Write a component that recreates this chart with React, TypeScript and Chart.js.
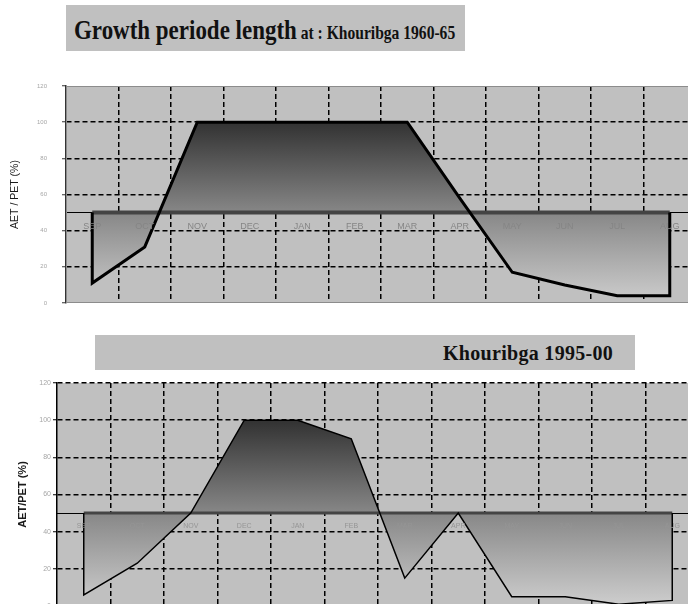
import React, { useEffect, useRef } from 'react';
import { Chart, registerables } from 'chart.js';

Chart.register(...registerables);

// ---------- data ----------
const MONTHS = ['SEP', 'OCT', 'NOV', 'DEC', 'JAN', 'FEB', 'MAR', 'APR', 'MAY', 'JUN', 'JUL', 'AUG'];
const RATIO_1960_65 = [11, 31, 100, 100, 100, 100, 100, 58, 17, 10, 4, 4];
const RATIO_1995_00 = [6, 23, 50, 100, 100, 90, 15, 50, 5, 5, 1, 3];
const THRESHOLD = 50;
const Y_MIN = 0;
const Y_MAX = 120;
const Y_STEP = 20;

const TITLE_MAIN = 'Growth periode length';
const TITLE_SUB_1 = 'at :  Khouribga 1960-65';
const TITLE_2 = 'Khouribga 1995-00';
const Y_TITLE_1 = 'AET / PET (%)';
const Y_TITLE_2 = 'AET/PET (%)';

const SANS = '"Liberation Sans", Arial, sans-serif';
const SERIF = '"Liberation Serif", "Times New Roman", serif';

type PanelCfg = {
  values: number[];
  yTitle: string;
  yTitleFont: any;
  yTitlePad: number;
  axisWidth: number;
  padding: { top: number; right: number; bottom: number; left: number };
  lineWidth: number;
  bandWidth: number;
  monthFont: number;
  monthColor: string;
  monthPad: number;
  yFont: number;
  yPad: number;
  hideEdgeGrid: boolean;
  frame: boolean;
  axisColor: string;
};

function buildPoints(labels: string[], values: number[]) {
  return [
    { x: labels[0], y: THRESHOLD },
    ...labels.map((l, i) => ({ x: l, y: values[i] })),
    { x: labels[labels.length - 1], y: THRESHOLD },
  ];
}

function makeChart(canvas: HTMLCanvasElement, cfg: PanelCfg) {
  const plotBg = {
    id: 'plotBg',
    beforeDraw(chart: any) {
      const { ctx, chartArea: a } = chart;
      ctx.save();
      ctx.fillStyle = '#c0c0c0';
      ctx.fillRect(a.left, a.top, a.right - a.left, a.bottom - a.top);
      ctx.restore();
    },
    beforeDatasetsDraw(chart: any) {
      if (!cfg.frame) return;
      const { ctx, chartArea: a } = chart;
      ctx.save();
      ctx.strokeStyle = '#8c8c8c';
      ctx.lineWidth = 1;
      ctx.strokeRect(a.left + 0.5, a.top + 0.5, a.right - a.left - 1, a.bottom - a.top - 1);
      ctx.restore();
    },
  };

  return new Chart(canvas, {
    type: 'line',
    data: {
      labels: MONTHS,
      datasets: [
        {
          data: buildPoints(MONTHS, cfg.values) as any,
          borderColor: '#000',
          borderWidth: cfg.lineWidth,
          borderJoinStyle: 'miter',
          pointRadius: 0,
          tension: 0,
          fill: { value: THRESHOLD } as any,
          backgroundColor: (c: any) => {
            const chart = c.chart;
            if (!chart.chartArea) return '#777';
            const ys = chart.scales.y;
            const g = chart.ctx.createLinearGradient(0, ys.getPixelForValue(100), 0, ys.getPixelForValue(0));
            g.addColorStop(0, '#323232');
            g.addColorStop(0.5, '#878787');
            g.addColorStop(1, '#cecece');
            return g;
          },
        },
        {
          data: [
            { x: MONTHS[0], y: THRESHOLD },
            { x: MONTHS[MONTHS.length - 1], y: THRESHOLD },
          ] as any,
          borderColor: '#444444',
          borderWidth: cfg.bandWidth,
          borderCapStyle: 'butt',
          pointRadius: 0,
          fill: false,
        },
      ],
    },
    options: {
      responsive: false,
      animation: false,
      events: [],
      layout: { padding: cfg.padding },
      plugins: {
        legend: { display: false },
        tooltip: { enabled: false },
        filler: { drawTime: 'beforeDatasetsDraw' },
      } as any,
      scales: {
        x: {
          type: 'category',
          position: { y: THRESHOLD } as any,
          offset: true,
          grid: {
            offset: true,
            drawTicks: false,
            lineWidth: 1.5,
            color: (c: any) => (c.index === 0 ? 'rgba(0,0,0,0)' : '#000'),
          },
          border: { display: true, color: '#000', width: 1, dash: [5, 3] },
          ticks: { display: false },
          afterFit: (s: any) => {
            s.height = 0;
          },
        },
        xl: {
          type: 'category',
          position: { y: THRESHOLD } as any,
          offset: true,
          grid: { display: false, drawTicks: false },
          border: { display: false },
          ticks: {
            z: 1,
            autoSkip: false,
            maxRotation: 0,
            padding: cfg.monthPad,
            color: cfg.monthColor,
            font: { family: SANS, size: cfg.monthFont },
          },
          afterFit: (s: any) => {
            s.height = 0;
          },
        } as any,
        y: {
          type: 'linear',
          position: 'left',
          min: Y_MIN,
          max: Y_MAX,
          ticks: {
            stepSize: Y_STEP,
            padding: cfg.yPad,
            color: '#a6a6a6',
            font: { family: SANS, size: cfg.yFont },
          },
          grid: {
            lineWidth: 1.5,
            tickLength: 4,
            tickWidth: 1,
            tickColor: cfg.axisColor,
            tickBorderDash: [],
            color: (c: any) => {
              if (cfg.hideEdgeGrid && c.tick && (c.tick.value === Y_MIN || c.tick.value === Y_MAX)) return 'rgba(0,0,0,0)';
              return '#000';
            },
          } as any,
          border: { display: true, color: cfg.axisColor, width: 1.5, dash: [5, 3] },
          title: {
            display: true,
            text: cfg.yTitle,
            color: '#1a1a1a',
            font: cfg.yTitleFont,
            padding: { top: cfg.yTitlePad, bottom: 0 },
          },
          afterFit: (s: any) => {
            s.width = cfg.axisWidth;
            s.paddingTop = 4;
            s.paddingBottom = 4;
          },
        },
      },
    } as any,
    plugins: [plotBg],
  });
}

function Panel({ cfg, width, height, top }: { cfg: PanelCfg; width: number; height: number; top: number }) {
  const ref = useRef<HTMLCanvasElement | null>(null);
  useEffect(() => {
    if (!ref.current) return;
    const chart = makeChart(ref.current, cfg);
    return () => chart.destroy();
  }, []);
  return (
    <canvas
      ref={ref}
      width={width}
      height={height}
      style={{ position: 'absolute', left: 0, top, width, height, display: 'block' }}
    />
  );
}

const CFG_1: PanelCfg = {
  values: RATIO_1960_65,
  yTitle: Y_TITLE_1,
  yTitleFont: { family: SANS, size: 10.5 },
  yTitlePad: 9,
  axisWidth: 66,
  padding: { top: 26, right: 4, bottom: 7, left: 0 },
  lineWidth: 3,
  bandWidth: 4,
  monthFont: 9,
  monthColor: '#858585',
  monthPad: 9,
  yFont: 6,
  yPad: 15,
  hideEdgeGrid: true,
  frame: true,
  axisColor: '#333',
};

const CFG_2: PanelCfg = {
  values: RATIO_1995_00,
  yTitle: Y_TITLE_2,
  yTitleFont: { family: SANS, size: 11, weight: 'bold' },
  yTitlePad: 16,
  axisWidth: 57,
  padding: { top: 11, right: 4, bottom: 6, left: 0 },
  lineWidth: 1.5,
  bandWidth: 3,
  monthFont: 7,
  monthColor: '#959595',
  monthPad: 9,
  yFont: 7,
  yPad: 2,
  hideEdgeGrid: false,
  frame: false,
  axisColor: '#000',
};

export default function App() {
  return (
    <div
      style={{
        position: 'absolute',
        left: 0,
        top: 0,
        width: 688,
        height: 604,
        overflow: 'hidden',
        background: '#fff',
      }}
    >
      <div style={{ position: 'absolute', left: 66, top: 5, width: 399, height: 46, background: '#c0c0c0' }}>
        <div
          style={{
            position: 'absolute',
            left: 8,
            top: 11,
            whiteSpace: 'nowrap',
            transform: 'scaleX(0.82)',
            transformOrigin: '0 0',
            fontFamily: SERIF,
            fontWeight: 'bold',
            fontSize: 28,
            lineHeight: 1,
            color: '#111',
          }}
        >
          <span style={{ fontSize: 28 }}>{TITLE_MAIN}</span>
          <span style={{ fontSize: 19 }}> {TITLE_SUB_1}</span>
        </div>
      </div>
      <Panel cfg={CFG_1} width={700} height={250} top={60} />
      <div style={{ position: 'absolute', left: 95, top: 335, width: 540, height: 35, background: '#c0c0c0' }}>
        <div
          style={{
            position: 'absolute',
            left: 348,
            top: 8,
            whiteSpace: 'nowrap',
            fontFamily: SERIF,
            fontWeight: 'bold',
            fontSize: 20,
            lineHeight: 1,
            letterSpacing: 0.3,
            color: '#111',
          }}
        >
          {TITLE_2}
        </div>
      </div>
      <Panel cfg={CFG_2} width={703} height={240} top={372} />
    </div>
  );
}
